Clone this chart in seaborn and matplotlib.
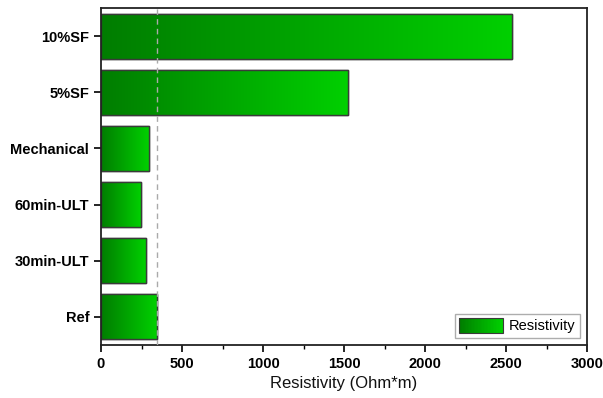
import numpy as np
import pandas as pd
import seaborn as sns
import matplotlib
matplotlib.use("Agg")
from matplotlib import pyplot as plt
from matplotlib.colors import LinearSegmentedColormap
from matplotlib.patches import Rectangle, Patch
from matplotlib.legend_handler import HandlerBase
from matplotlib.ticker import MultipleLocator

"""
Horizontal bar chart of resistivity per sample, bars shaded with a green gradient
"""

samples = ["10%SF", "5%SF", "Mechanical", "60min-ULT", "30min-ULT", "Ref"]
resistivity = [2540, 1522, 296, 245, 276, 344]
ref_value = 344

dark_green = "#007d00"
light_green = "#00d000"
grad = LinearSegmentedColormap.from_list("grad", [dark_green, light_green])

sns.set_style("white")
plt.rcParams["font.family"] = ["Liberation Sans", "DejaVu Sans"]
plt.rcParams["text.color"] = "black"
plt.rcParams["xtick.color"] = "black"
plt.rcParams["ytick.color"] = "black"

df = pd.DataFrame({"sample": samples, "resistivity": resistivity})

fig = plt.figure(figsize=(6.03, 3.98), dpi=100)
ax = fig.add_axes([101 / 603, 1 - 345 / 398, 486 / 603, 337 / 398])

sns.barplot(data=df, x="resistivity", y="sample", orient="h", ax=ax,
            color=light_green, edgecolor="#3a3a3a", linewidth=1.0, width=0.8)

ax.set_xlim(0, 3000)
ylim = ax.get_ylim()

# paint each bar with its own left->right gradient
g = np.linspace(0, 1, 256).reshape(1, -1)
for bar in ax.patches:
    x0, y0 = bar.get_x(), bar.get_y()
    w, h = bar.get_width(), bar.get_height()
    im = ax.imshow(g, cmap=grad, aspect="auto", extent=[x0, x0 + w, y0, y0 + h],
                   zorder=bar.get_zorder() + 0.1, interpolation="bicubic")
    im.set_clip_path(bar)
    outline = Rectangle((x0, y0), w, h, fill=False, edgecolor="#3a3a3a",
                        linewidth=1.0, zorder=bar.get_zorder() + 0.2)
    ax.add_patch(outline)

ax.set_ylim(ylim)
ax.axvline(ref_value, color="#aaaaaa", linestyle=(0, (4, 3)), linewidth=1.0, zorder=5)

ax.xaxis.set_major_locator(MultipleLocator(500))
ax.xaxis.set_minor_locator(MultipleLocator(250))
ax.tick_params(axis="x", which="major", direction="out", length=5, width=1.2, bottom=True)
ax.tick_params(axis="x", which="minor", direction="out", length=3, width=1.0, bottom=True)
ax.tick_params(axis="y", which="major", direction="out", length=5, width=1.2, left=True)
for lab in ax.get_xticklabels() + ax.get_yticklabels():
    lab.set_fontweight("bold")
    lab.set_fontsize(10.5)
    lab.set_color("black")

for s in ax.spines.values():
    s.set_visible(True)
    s.set_color("#222222")
    s.set_linewidth(1.3)

ax.set_xlabel("Resistivity (Ohm*m)", fontsize=12, labelpad=4, color="#111111")
ax.set_ylabel("")


class GradientHandler(HandlerBase):
    def create_artists(self, legend, orig_handle, xdescent, ydescent, width, height, fontsize, trans):
        n = 30
        arts = []
        for i in range(n):
            r = Rectangle((-xdescent + width * i / n, -ydescent), width / n + 0.3, height,
                          facecolor=grad(i / (n - 1)), edgecolor="none", transform=trans)
            arts.append(r)
        arts.append(Rectangle((-xdescent, -ydescent), width, height, fill=False,
                              edgecolor="#3a3a3a", linewidth=0.8, transform=trans))
        return arts


ax.legend([Patch()], ["Resistivity"], handler_map={Patch: GradientHandler()},
          loc="lower right", frameon=True, fancybox=False, edgecolor="#999999",
          fontsize=10.5, handlelength=3.0, handleheight=1.2, borderpad=0.3,
          handletextpad=0.4, borderaxespad=0.5)

fig.savefig("out.png", dpi=100)
